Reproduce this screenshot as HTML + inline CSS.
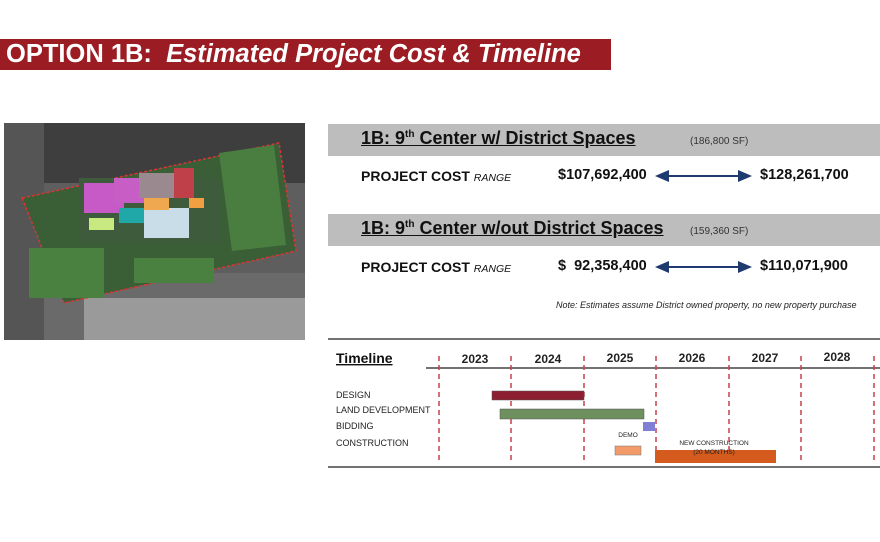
<!DOCTYPE html>
<html><head><style>
body{margin:0;width:880px;height:542px;background:#fff;position:relative;overflow:hidden;font-family:"Liberation Sans",Arial,sans-serif}
.a{position:absolute;white-space:nowrap}
</style></head><body>
<div class="a" style="left:0;top:39px;width:611px;height:31px;background:#9b1c22"></div>
<div class="a" style="left:6px;top:40px;color:#fff;font-size:25.5px;font-weight:bold;line-height:28px">OPTION 1B:&nbsp; <i>Estimated Project Cost &amp; Timeline</i></div>

<svg class="a" style="left:4px;top:123px" width="301" height="217" viewBox="0 0 301 217">
<rect width="301" height="217" fill="#5e5e5e"/>
<rect x="0" y="0" width="301" height="60" fill="#3e3e3e"/>
<rect x="0" y="150" width="301" height="67" fill="#6a6a6a"/>
<rect x="80" y="175" width="221" height="42" fill="#9a9a9a"/>
<rect x="0" y="0" width="40" height="217" fill="#555"/>
<polygon points="18,75 275,20 292,128 60,180" fill="#3a5e36" stroke="#d33" stroke-width="1.5" stroke-dasharray="3,2"/>
<polygon points="215,30 270,22 282,122 228,128" fill="#4a7e40"/>
<rect x="75" y="55" width="140" height="65" fill="#3e5c3c"/>
<rect x="80" y="60" width="40" height="30" fill="#c85ac8"/>
<rect x="110" y="55" width="30" height="25" fill="#c75ec5"/>
<rect x="135" y="50" width="40" height="25" fill="#9a8a90"/>
<rect x="170" y="45" width="20" height="30" fill="#c0404a"/>
<rect x="185" y="75" width="15" height="10" fill="#f0a040"/>
<rect x="115" y="85" width="25" height="15" fill="#20a8a8"/>
<rect x="140" y="85" width="45" height="30" fill="#c8dde8"/>
<rect x="85" y="95" width="25" height="12" fill="#c8e880"/>
<rect x="140" y="75" width="25" height="12" fill="#f0a850"/>
<rect x="25" y="125" width="75" height="50" fill="#4a8040"/>
<rect x="130" y="135" width="80" height="25" fill="#4a8040"/>
</svg>

<div class="a" style="left:328px;top:124px;width:552px;height:32px;background:#bdbdbd"></div>
<div class="a" style="left:361px;top:128px;font-size:18px;font-weight:bold;text-decoration:underline;color:#111">1B: 9<sup style="font-size:10px">th</sup> Center w/ District Spaces</div>
<div class="a" style="left:690px;top:136px;font-size:10px;color:#333">(186,800 SF)</div>
<div class="a" style="left:361px;top:168px;font-size:14px;font-weight:bold;color:#111">PROJECT COST <i style="font-weight:normal;font-size:10.5px">RANGE</i></div>
<div class="a" style="left:558px;top:167px;font-size:14.5px;font-weight:bold;color:#111">$107,692,400</div>
<div class="a" style="left:760px;top:167px;font-size:14.5px;font-weight:bold;color:#111">$128,261,700</div>

<div class="a" style="left:328px;top:214px;width:552px;height:32px;background:#bdbdbd"></div>
<div class="a" style="left:361px;top:218px;font-size:18px;font-weight:bold;text-decoration:underline;color:#111">1B: 9<sup style="font-size:10px">th</sup> Center w/out District Spaces</div>
<div class="a" style="left:690px;top:226px;font-size:10px;color:#333">(159,360 SF)</div>
<div class="a" style="left:361px;top:259px;font-size:14px;font-weight:bold;color:#111">PROJECT COST <i style="font-weight:normal;font-size:10.5px">RANGE</i></div>
<div class="a" style="left:558px;top:258px;font-size:14.5px;font-weight:bold;color:#111">$&nbsp; 92,358,400</div>
<div class="a" style="left:760px;top:258px;font-size:14.5px;font-weight:bold;color:#111">$110,071,900</div>
<div class="a" style="left:556px;top:300px;font-size:9px;font-style:italic;color:#222">Note: Estimates assume District owned property, no new property purchase</div>

<svg class="a" style="left:0;top:0" width="880" height="542">
<defs><marker id="ah" markerWidth="8" markerHeight="8" refX="6" refY="3" orient="auto-start-reverse"><path d="M0,0 L7,3 L0,6z" fill="#1f3a6e"/></marker></defs>
<line x1="657" y1="176" x2="750" y2="176" stroke="#1f3a6e" stroke-width="2" marker-start="url(#ah)" marker-end="url(#ah)"/>
<line x1="657" y1="267" x2="750" y2="267" stroke="#1f3a6e" stroke-width="2" marker-start="url(#ah)" marker-end="url(#ah)"/>
<line x1="328" y1="339" x2="880" y2="339" stroke="#444" stroke-width="1.5"/>
<line x1="426" y1="368" x2="880" y2="368" stroke="#444" stroke-width="1.5"/>
<line x1="328" y1="467" x2="880" y2="467" stroke="#444" stroke-width="1.5"/>
<g stroke="#c8404a" stroke-width="1.5" stroke-dasharray="5,4">
<line x1="439" y1="356" x2="439" y2="460"/><line x1="511" y1="356" x2="511" y2="460"/><line x1="584" y1="356" x2="584" y2="460"/><line x1="656" y1="356" x2="656" y2="460"/><line x1="729" y1="356" x2="729" y2="460"/><line x1="801" y1="356" x2="801" y2="460"/><line x1="874" y1="356" x2="874" y2="460"/>
</g>
<g font-family="Liberation Sans,Arial,sans-serif" font-weight="bold" font-size="12" fill="#222" text-anchor="middle">
<text x="475" y="363">2023</text><text x="548" y="363">2024</text><text x="620" y="362">2025</text><text x="692" y="362">2026</text><text x="765" y="362">2027</text><text x="837" y="361">2028</text>
</g>
<text x="336" y="363" font-family="Liberation Sans,Arial,sans-serif" font-weight="bold" font-size="14" fill="#111" text-decoration="underline">Timeline</text>
<g font-family="Liberation Sans,Arial,sans-serif" font-size="9" fill="#222">
<text x="336" y="398">DESIGN</text><text x="336" y="413">LAND DEVELOPMENT</text><text x="336" y="429">BIDDING</text><text x="336" y="446">CONSTRUCTION</text>
</g>
<rect x="492" y="391" width="92" height="9" fill="#8b1e30" stroke="#555" stroke-width="0.5"/>
<rect x="500" y="409" width="144" height="10" fill="#6e8f5e" stroke="#555" stroke-width="0.5"/>
<rect x="643" y="422" width="12" height="9" fill="#7f7fd6"/>
<rect x="615" y="446" width="26" height="9" fill="#f39a6a" stroke="#777" stroke-width="0.5"/>
<rect x="655" y="450" width="121" height="13" fill="#d45a1e"/>
<g font-family="Liberation Sans,Arial,sans-serif" font-size="6.5" fill="#222" text-anchor="middle">
<text x="628" y="437">DEMO</text><text x="714" y="445">NEW CONSTRUCTION</text><text x="714" y="454">(20 MONTHS)</text>
</g>
</svg>
</body></html>
